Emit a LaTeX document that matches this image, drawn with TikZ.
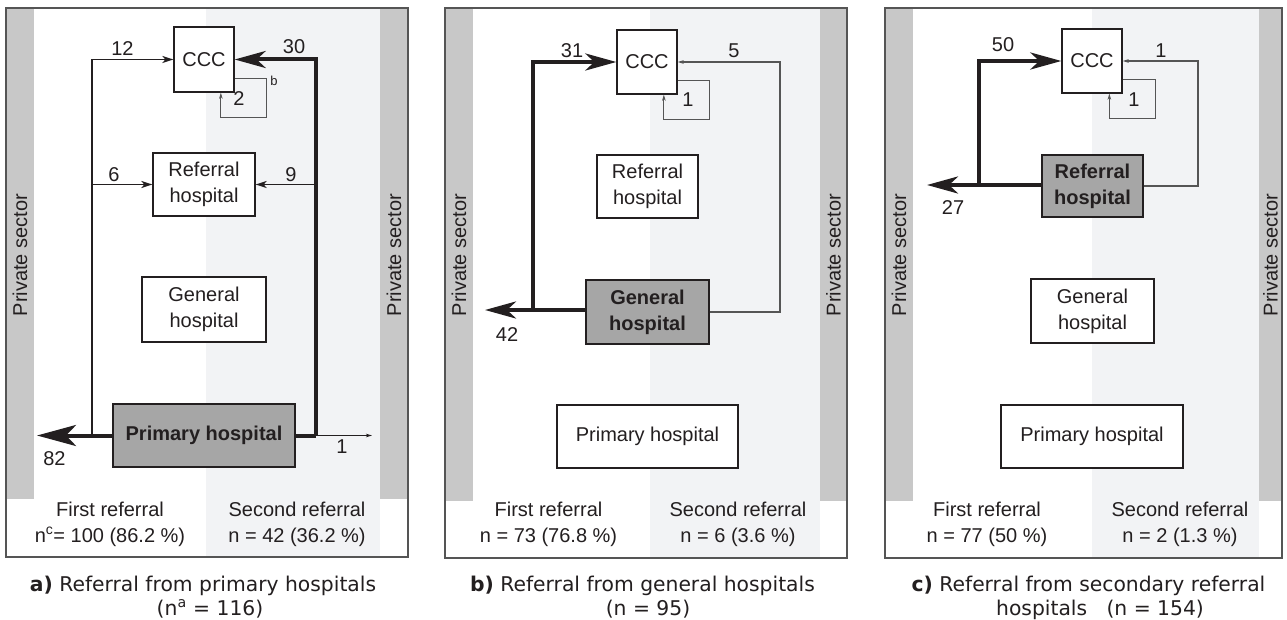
\documentclass[tikz,border=0pt]{standalone}
\usepackage{fontspec}
\setmainfont{Liberation Sans}
\newfontfamily\capfont{DejaVu Sans}
\usetikzlibrary{arrows.meta}
\definecolor{barcol}{HTML}{C8C8C8}
\definecolor{lightcol}{HTML}{F2F3F5}
\definecolor{fillcol}{HTML}{A6A6A6}
\definecolor{framecol}{HTML}{555555}
\definecolor{inkcol}{HTML}{231F20}
\definecolor{loopcol}{HTML}{555555}
\begin{document}
\begin{tikzpicture}[x=1pt,y=-1pt,
  font=\fontsize{20}{26}\selectfont,
  box/.style={draw=inkcol, line width=1.3pt, fill=white, inner sep=0pt, align=center, text=inkcol},
  hbox/.style={box, fill=fillcol, font=\fontsize{20}{26}\selectfont\bfseries},
  lbl/.style={inner sep=0pt, text=inkcol},
  sector/.style={rotate=90, inner sep=0pt, text=inkcol},
  caption/.style={anchor=base, inner sep=0pt, text=inkcol, font=\capfont\fontsize{20.3}{24}\selectfont},
  bottomtxt/.style={anchor=base, inner sep=0pt, text=inkcol},
  panelframe/.style={draw=framecol, line width=1.2pt},
  thickar/.style={line width=4pt, draw=inkcol, -{Stealth[length=31pt,width=17pt,inset=9pt]}},
  bigar/.style={line width=4pt, draw=inkcol, -{Stealth[length=39pt,width=21pt,inset=10pt]}},
  thickline/.style={line width=4pt, draw=inkcol},
  thinar/.style={line width=1.5pt, draw=inkcol, -{Stealth[length=11pt,width=7pt,inset=3pt]}},
  tinyar/.style={line width=1.1pt, draw=loopcol, -{Stealth[length=6pt,width=3.5pt,inset=1.5pt]}},
]
\useasboundingbox (0,0) rectangle (1287,620);
\fill[white] (0,0) rectangle (1287,620);

% ================= Panel a =================
\fill[lightcol] (206,8) rectangle (380,557);
\fill[barcol] (6,8) rectangle (34,499);
\fill[barcol] (380,8) rectangle (408,499);
\draw[panelframe] (6,8) rectangle (408,557);
\node[sector] (psa1) at (20,255) {Private sector};
\node[sector] (psa2) at (394,255) {Private sector};

\node[box, minimum width=60pt, minimum height=65pt] (ccca) at (204,59.5) {CCC};
\node[box, minimum width=102pt, minimum height=63pt] (refa) at (204,184.5) {Referral\\hospital};
\node[box, minimum width=124pt, minimum height=65pt] (gena) at (204,309.5) {General\\hospital};
\node[hbox, minimum width=182pt, minimum height=63pt] (pha) at (204,435.5) {Primary hospital};

\coordinate (ja) at (92,435.5);
\coordinate (ka) at (316,435.5);
\coordinate (o82) at (37,435.5);
\coordinate (o1a) at (372,435.5);
\draw[thinar] (ja) |- (ccca.west);
\draw[thinar] (ja |- refa.west) -- (refa.west);
\draw[bigar] (pha.west) -- (o82);
\draw[thickline] (pha.east) -- (ka);
\draw[thickar] (ka) |- (ccca.east);
\draw[thinar] (ka |- refa.east) -- (refa.east);
\draw[tinyar, draw=inkcol] (ka) -- (o1a);
\draw[tinyar] ([yshift=14pt]ccca.south east) -- ++(32,0) -- ++(0,39) -| ([xshift=47.5pt]ccca.south west);

\node[lbl] (l12) at (122.5,49) {12};
\node[lbl] (l30) at (294,47) {30};
\node[lbl] (l6) at (114,175) {6};
\node[lbl] (l9) at (291,175) {9};
\node[lbl] (l2) at (239,99) {2};
\node[lbl, font=\fontsize{13}{15}\selectfont] (lb) at (274,81) {b};
\node[lbl] (l82) at (54.5,458.5) {82};
\node[lbl] (l1a) at (342,447) {1};

\node[bottomtxt] (fra) at (110,516) {First referral};
\node[bottomtxt] (nfa) at (110,542) {n\textsuperscript{c}= 100 (86.2 \%)};
\node[bottomtxt] (sra) at (297,516) {Second referral};
\node[bottomtxt] (nsa) at (297,542) {n = 42 (36.2 \%)};

\node[caption] (capa1) at (203,591) {\textbf{a)} Referral from primary hospitals};
\node[caption] (capa2) at (210,615.5) {(n\textsuperscript{a} = 116)};

% ================= Panel b =================
\fill[lightcol] (650,8) rectangle (820,558);
\fill[barcol] (445,8) rectangle (473,501);
\fill[barcol] (820,8) rectangle (847,501);
\draw[panelframe] (445,8) rectangle (847,558);
\node[sector] (psb1) at (459,255) {Private sector};
\node[sector] (psb2) at (833.5,255) {Private sector};

\node[box, minimum width=60pt, minimum height=64pt] (cccb) at (647,62) {CCC};
\node[box, minimum width=101pt, minimum height=63pt] (refb) at (647.5,186.5) {Referral\\hospital};
\node[hbox, minimum width=123pt, minimum height=64pt] (genb) at (647.5,312) {General\\hospital};
\node[box, minimum width=181pt, minimum height=63pt] (phb) at (647.5,436.5) {Primary hospital};

\coordinate (jb) at (533,310);
\coordinate (kb) at (780,312);
\coordinate (o42) at (485,310);
\draw[thickline] ([yshift=2pt]genb.west) -- (jb);
\draw[thickar] (jb) -- (o42);
\draw[thickar] (jb) |- (cccb.west);
\draw[tinyar] (genb.east) -- (kb) |- (cccb.east);
\draw[tinyar] ([yshift=14pt]cccb.south east) -- ++(32,0) -- ++(0,39) -| ([xshift=47.5pt]cccb.south west);

\node[lbl] (l31) at (572,51) {31};
\node[lbl] (l5) at (734,51) {5};
\node[lbl] (l1b) at (688,100) {1};
\node[lbl] (l42) at (507,335) {42};

\node[bottomtxt] (frb) at (548.5,516) {First referral};
\node[bottomtxt] (nfb) at (548.5,542) {n = 73 (76.8 \%)};
\node[bottomtxt] (srb) at (738,516) {Second referral};
\node[bottomtxt] (nsb) at (738,542) {n = 6 (3.6 \%)};

\node[caption] (capb1) at (642.5,591) {\textbf{b)} Referral from general hospitals};
\node[caption] (capb2) at (648,615.5) {(n = 95)};

% ================= Panel c =================
\fill[lightcol] (1092,8) rectangle (1259,558);
\fill[barcol] (885,8) rectangle (913,501);
\fill[barcol] (1259,8) rectangle (1282,501);
\draw[panelframe] (885,8) rectangle (1282,558);
\node[sector] (psc1) at (899,255) {Private sector};
\node[sector] (psc2) at (1270.5,255) {Private sector};

\node[box, minimum width=60pt, minimum height=64pt] (cccc) at (1092,61) {CCC};
\node[hbox, minimum width=101pt, minimum height=62pt] (refc) at (1092.5,186) {Referral\\hospital};
\node[box, minimum width=123pt, minimum height=64pt] (genc) at (1092.5,311) {General\\hospital};
\node[box, minimum width=182pt, minimum height=63pt] (phc) at (1092,436.5) {Primary hospital};

\coordinate (jc) at (979,185);
\coordinate (kc) at (1198,186);
\coordinate (o27) at (927,185);
\draw[thickline] ([yshift=1pt]refc.west) -- (jc);
\draw[thickar] (jc) -- (o27);
\draw[thickar] (jc) |- (cccc.west);
\draw[tinyar] (refc.east) -- (kc) |- (cccc.east);
\draw[tinyar] ([yshift=14pt]cccc.south east) -- ++(33,0) -- ++(0,39) -| ([xshift=48pt]cccc.south west);

\node[lbl] (l50) at (1003,44.5) {50};
\node[lbl] (l1c) at (1161,51) {1};
\node[lbl] (l1cc) at (1134,100) {1};
\node[lbl] (l27) at (953,207.5) {27};

\node[bottomtxt] (frc) at (987,516) {First referral};
\node[bottomtxt] (nfc) at (987,542) {n = 77 (50 \%)};
\node[bottomtxt] (src) at (1180,516) {Second referral};
\node[bottomtxt] (nsc) at (1180,542) {n = 2 (1.3 \%)};

\node[caption] (capc1) at (1088.5,591) {\textbf{c)} Referral from secondary referral};
\node[caption] (capc2) at (1100,615.5) {hospitals\ \ \ (n = 154)};
\end{tikzpicture}
\end{document}
